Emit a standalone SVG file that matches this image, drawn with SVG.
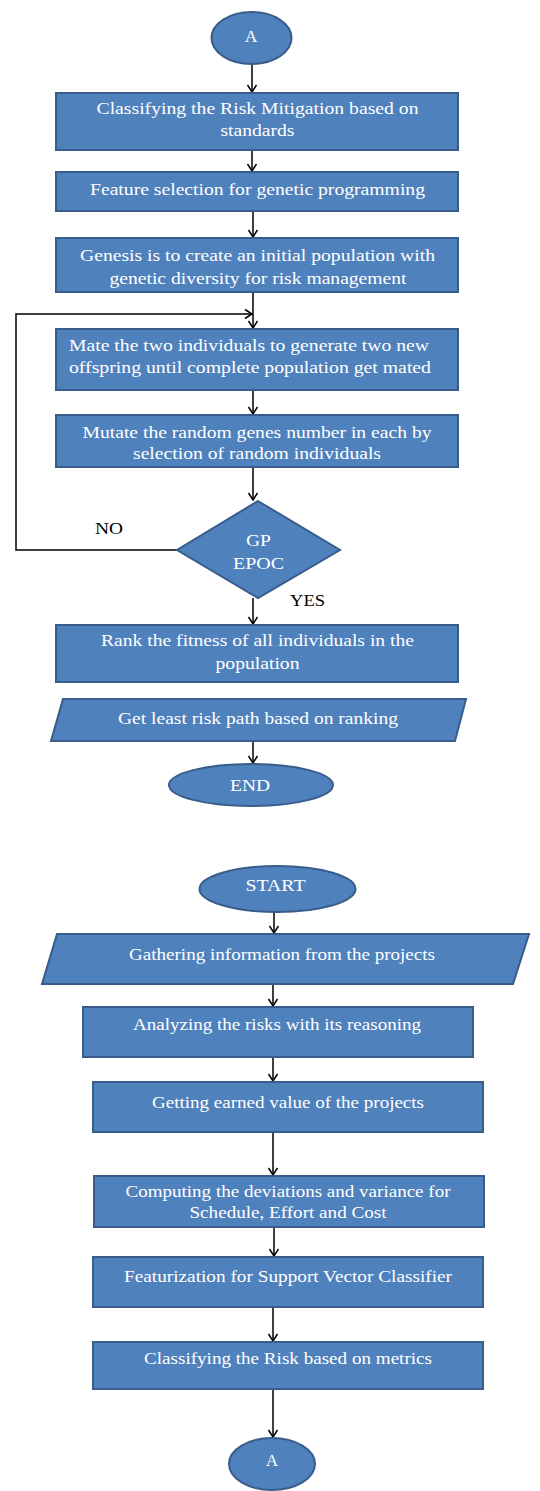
<svg xmlns="http://www.w3.org/2000/svg" width="540" height="1491" viewBox="0 0 540 1491">
<style>
.n{fill:#4F81BD;stroke:#385D8A;stroke-width:2}
.t{fill:#fff;font-family:"Liberation Serif","Times New Roman",serif;font-size:17.5px;text-anchor:middle}
.tl{fill:#fff;font-family:"Liberation Serif","Times New Roman",serif;font-size:17.5px}
.lb{fill:#000;font-family:"Liberation Serif","Times New Roman",serif;font-size:17px}
.c{fill:none;stroke:#000;stroke-width:1.5}
</style>
<defs>
<marker id="ar" viewBox="-1 -6 9 12" markerWidth="9" markerHeight="12" refX="7" refY="0" orient="auto" markerUnits="userSpaceOnUse">
<path d="M0,-4.5 L7,0 L0,4.5" fill="none" stroke="#000" stroke-width="1.5"/>
</marker>
<clipPath id="cp3"><rect x="56" y="238" width="402" height="50"/></clipPath>
</defs>
<g id="connectors">
<path class="c" d="M252,64 V92" marker-end="url(#ar)"/>
<path class="c" d="M252,150 V171" marker-end="url(#ar)"/>
<path class="c" d="M253,211 V237" marker-end="url(#ar)"/>
<path class="c" d="M253,292 V328" marker-end="url(#ar)"/>
<path class="c" d="M177,550 H16 V314 H252" marker-end="url(#ar)"/>
<path class="c" d="M253,390 V414" marker-end="url(#ar)"/>
<path class="c" d="M253,467 V500" marker-end="url(#ar)"/>
<path class="c" d="M253,598 V624" marker-end="url(#ar)"/>
<path class="c" d="M253,741 V763" marker-end="url(#ar)"/>
<path class="c" d="M274,912 V933" marker-end="url(#ar)"/>
<path class="c" d="M273,984 V1006" marker-end="url(#ar)"/>
<path class="c" d="M273,1057 V1081" marker-end="url(#ar)"/>
<path class="c" d="M273,1132 V1175" marker-end="url(#ar)"/>
<path class="c" d="M274,1227 V1256" marker-end="url(#ar)"/>
<path class="c" d="M273,1307 V1341" marker-end="url(#ar)"/>
<path class="c" d="M273,1389 V1437" marker-end="url(#ar)"/>
</g>
<g id="nA1"><ellipse class="n" cx="251.5" cy="38" rx="40" ry="26"/><text class="t" x="251" y="42" textLength="12">A</text></g>
<g id="n1"><rect class="n" x="56" y="93" width="402" height="57"/><text class="t" x="257.5" y="114" textLength="322" lengthAdjust="spacingAndGlyphs">Classifying the Risk Mitigation based on</text><text class="t" x="257.5" y="136" textLength="74" lengthAdjust="spacingAndGlyphs">standards</text></g>
<g id="n2"><rect class="n" x="56" y="172" width="402" height="39"/><text class="t" x="257.5" y="195" textLength="335" lengthAdjust="spacingAndGlyphs">Feature selection for genetic programming</text></g>
<g id="n3"><rect class="n" x="56" y="238" width="402" height="54"/><g clip-path="url(#cp3)"><text class="t" x="257.5" y="261" textLength="355" lengthAdjust="spacingAndGlyphs">Genesis is to create an initial population with</text><text class="t" x="258" y="284" textLength="297" lengthAdjust="spacingAndGlyphs">genetic diversity for risk management</text></g></g>
<g id="n4"><rect class="n" x="56" y="329" width="402" height="61"/><text class="tl" x="69" y="351" textLength="360" lengthAdjust="spacingAndGlyphs">Mate the two individuals to generate two new</text><text class="tl" x="69" y="373" textLength="362" lengthAdjust="spacingAndGlyphs">offspring until complete population get mated</text></g>
<g id="n5"><rect class="n" x="56" y="415" width="402" height="52"/><text class="t" x="257" y="438" textLength="349" lengthAdjust="spacingAndGlyphs">Mutate the random genes number in each by</text><text class="t" x="257" y="459" textLength="248" lengthAdjust="spacingAndGlyphs">selection of random individuals</text></g>
<g id="nD"><polygon class="n" points="258,501 340,550 258,598 177,550"/><text class="t" x="258.5" y="546" textLength="25" lengthAdjust="spacingAndGlyphs">GP</text><text class="t" x="258.5" y="569" textLength="51" lengthAdjust="spacingAndGlyphs">EPOC</text></g>
<g id="labels"><text class="lb" x="95" y="534" textLength="28" lengthAdjust="spacingAndGlyphs">NO</text><text class="lb" x="290" y="606" textLength="35" lengthAdjust="spacingAndGlyphs">YES</text></g>
<g id="n6"><rect class="n" x="56" y="625" width="402" height="57"/><text class="t" x="257.5" y="646" textLength="313" lengthAdjust="spacingAndGlyphs">Rank the fitness of all individuals in the</text><text class="t" x="257.5" y="669" textLength="84" lengthAdjust="spacingAndGlyphs">population</text></g>
<g id="n7"><polygon class="n" points="63,699 466,699 455,741 51,741"/><text class="t" x="258" y="724" textLength="280" lengthAdjust="spacingAndGlyphs">Get least risk path based on ranking</text></g>
<g id="nEnd"><ellipse class="n" cx="251" cy="785" rx="82" ry="21"/><text class="t" x="250" y="791" textLength="40" lengthAdjust="spacingAndGlyphs">END</text></g>
<g id="nStart"><ellipse class="n" cx="277.5" cy="889" rx="78" ry="23"/><text class="t" x="275.5" y="891" textLength="60" lengthAdjust="spacingAndGlyphs">START</text></g>
<g id="n8"><polygon class="n" points="57,934 529,934 513,984 42,984"/><text class="t" x="282" y="960" textLength="306" lengthAdjust="spacingAndGlyphs">Gathering information from the projects</text></g>
<g id="n9"><rect class="n" x="83" y="1007" width="390" height="50"/><text class="t" x="277" y="1030" textLength="288" lengthAdjust="spacingAndGlyphs">Analyzing the risks with its reasoning</text></g>
<g id="n10"><rect class="n" x="93" y="1082" width="390" height="50"/><text class="t" x="288" y="1108" textLength="272" lengthAdjust="spacingAndGlyphs">Getting earned value of the projects</text></g>
<g id="n11"><rect class="n" x="94" y="1176" width="390" height="51"/><text class="t" x="288" y="1197" textLength="325" lengthAdjust="spacingAndGlyphs">Computing the deviations and variance for</text><text class="t" x="288" y="1218" textLength="197" lengthAdjust="spacingAndGlyphs">Schedule, Effort and Cost</text></g>
<g id="n12"><rect class="n" x="93" y="1257" width="390" height="50"/><text class="t" x="288" y="1282" textLength="328" lengthAdjust="spacingAndGlyphs">Featurization for Support Vector Classifier</text></g>
<g id="n13"><rect class="n" x="93" y="1342" width="390" height="47"/><text class="t" x="288" y="1364" textLength="288" lengthAdjust="spacingAndGlyphs">Classifying the Risk based on metrics</text></g>
<g id="nA2"><ellipse class="n" cx="272" cy="1464" rx="43" ry="26"/><text class="t" x="272" y="1466" textLength="12" lengthAdjust="spacingAndGlyphs">A</text></g>
</svg>
